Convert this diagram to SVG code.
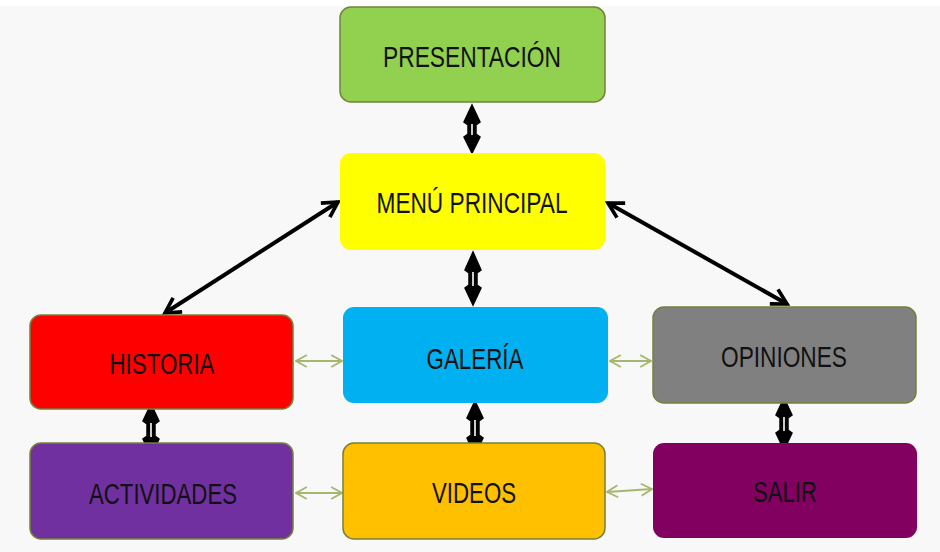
<svg xmlns="http://www.w3.org/2000/svg" width="940" height="552" viewBox="0 0 940 552">
<defs>
<style>
.box{stroke:#76803a;stroke-width:1.5}
.nos{stroke:none}
.t{font-family:"Liberation Sans Narrow","Liberation Sans",Arial,sans-serif;font-size:30px;fill:#111;text-anchor:middle}
.thick{stroke:#000;stroke-width:4;fill:none}
.thin{stroke:#a3b86c;stroke-width:1.8;fill:none}
.ud{fill:#000;stroke:#000;stroke-width:1.5;stroke-linejoin:miter}
.ul{stroke:#fff;stroke-width:1.6}
</style>
<marker id="ah" viewBox="0 0 12 12" refX="10" refY="6" markerWidth="5" markerHeight="5" orient="auto-start-reverse" markerUnits="strokeWidth">
<path d="M1,1 L10,6 L1,11" fill="none" stroke="#000" stroke-width="2.2"/>
</marker>
<marker id="gh" viewBox="0 0 12 12" refX="11" refY="6" markerWidth="8" markerHeight="8" orient="auto-start-reverse" markerUnits="strokeWidth">
<path d="M2,1 L11,6 L2,11" fill="none" stroke="#a3b86c" stroke-width="1.5"/>
</marker>
</defs>
<rect width="940" height="552" fill="#f8f8f8"/>
<rect x="0" y="0" width="940" height="6" fill="#fff"/>

<g id="connectors">
<line class="thick" x1="165" y1="313" x2="338" y2="202" marker-start="url(#ah)" marker-end="url(#ah)"/>
<line class="thick" x1="608" y1="203" x2="787" y2="304" marker-start="url(#ah)" marker-end="url(#ah)"/>
<path class="ud" d="M472,105 L480,122 L476,125 L476,134 L480,137 L472,153 L464,137 L468,134 L468,125 L464,122 Z"/>
<line class="ul" x1="472" y1="124" x2="472" y2="135"/>
<path class="ud" d="M473,252 L481,270 L477,273 L477,285 L481,288 L473,305 L465,288 L469,285 L469,273 L465,270 Z"/>
<line class="ul" x1="473" y1="272" x2="473" y2="286"/>
<path class="ud" d="M151,404 L159,421 L155,424 L155,436 L159,439 L151,456 L143,439 L147,436 L147,424 L143,421 Z"/>
<line class="ul" x1="151" y1="423" x2="151" y2="437"/>
<path class="ud" d="M475,401 L483,418 L479,421 L479,435 L483,438 L475,455 L467,438 L471,435 L471,421 L467,418 Z"/>
<line class="ul" x1="475" y1="420" x2="475" y2="436"/>
<path class="ud" d="M784,398 L792,415 L788,418 L788,430 L792,433 L784,450 L776,433 L780,430 L780,418 L776,415 Z"/>
<line class="ul" x1="784" y1="417" x2="784" y2="431"/>
<line class="thin" x1="296" y1="361" x2="342" y2="361" marker-start="url(#gh)" marker-end="url(#gh)"/>
<line class="thin" x1="296" y1="493" x2="342" y2="493" marker-start="url(#gh)" marker-end="url(#gh)"/>
<line class="thin" x1="610" y1="361" x2="651" y2="361" marker-start="url(#gh)" marker-end="url(#gh)"/>
<line class="thin" x1="607" y1="492" x2="652" y2="489" marker-start="url(#gh)" marker-end="url(#gh)"/>
</g>

<g id="presentacion">
<rect class="box" x="340" y="7" width="265" height="95" rx="11" fill="#92d050"/>
<text class="t" x="472" y="67" textLength="178" lengthAdjust="spacingAndGlyphs">PRESENTACIÓN</text>
</g>
<g id="menu">
<rect class="nos" x="340" y="153" width="265" height="97" rx="11" fill="#ffff00"/>
<text class="t" x="472" y="213" textLength="191" lengthAdjust="spacingAndGlyphs">MENÚ PRINCIPAL</text>
</g>
<g id="historia">
<rect class="box" x="30" y="315" width="263" height="94" rx="11" fill="#ff0000"/>
<text class="t" x="162" y="374" textLength="105" lengthAdjust="spacingAndGlyphs">HISTORIA</text>
</g>
<g id="galeria">
<rect class="nos" x="343" y="307" width="265" height="96" rx="11" fill="#00b0f0"/>
<text class="t" x="475" y="369" textLength="97" lengthAdjust="spacingAndGlyphs">GALERÍA</text>
</g>
<g id="opiniones">
<rect class="box" x="653" y="307" width="263" height="96" rx="11" fill="#808080"/>
<text class="t" x="784" y="367" textLength="126" lengthAdjust="spacingAndGlyphs">OPINIONES</text>
</g>
<g id="actividades">
<rect class="box" x="30" y="443" width="263" height="96" rx="11" fill="#7030a0"/>
<text class="t" x="163" y="504" textLength="148" lengthAdjust="spacingAndGlyphs">ACTIVIDADES</text>
</g>
<g id="videos">
<rect class="box" x="343" y="443" width="262" height="96" rx="11" fill="#ffc000"/>
<text class="t" x="474" y="503" textLength="84" lengthAdjust="spacingAndGlyphs">VIDEOS</text>
</g>
<g id="salir">
<rect class="nos" x="653" y="443" width="264" height="95" rx="11" fill="#820060"/>
<text class="t" x="785" y="502" textLength="64" lengthAdjust="spacingAndGlyphs">SALIR</text>
</g>
</svg>
